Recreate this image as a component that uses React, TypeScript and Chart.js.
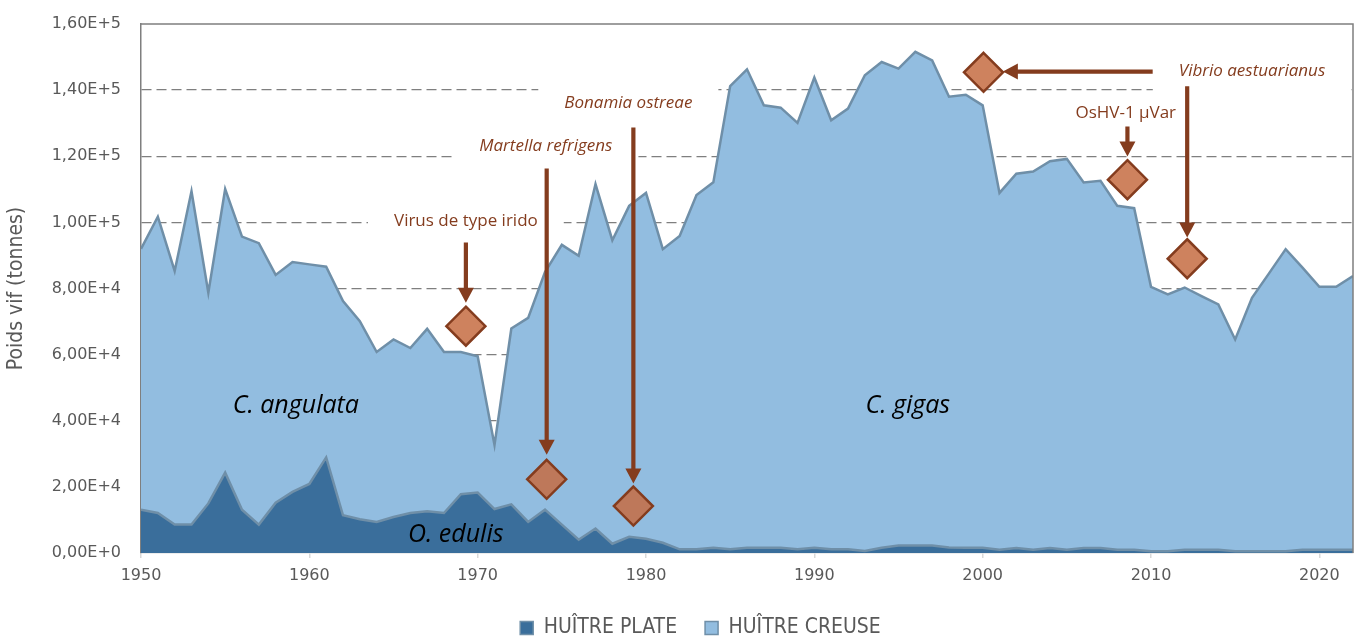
import React, { useEffect, useRef } from 'react';
import { Chart, registerables } from 'chart.js';

Chart.register(...registerables);

// ---------- DATA ----------
const years = Array.from({ length: 73 }, (_, i) => 1950 + i);

const seriesNames = ['HUÎTRE PLATE', 'HUÎTRE CREUSE'];

// Oysters, flat (O. edulis), tonnes
const huitrePlate = [
  13100, 12100, 8600, 8600, 15000, 24300, 13100, 8600, 15200, 18500,
  20900, 28900, 11400, 10200, 9400, 10900, 12100, 12600, 12100, 17800,
  18300, 13300, 14700, 9400, 13100, 8600, 4000, 7400, 2800, 4900,
  4300, 3100, 1100, 1100, 1600, 1100, 1600, 1600, 1600, 1100,
  1600, 1100, 1100, 600, 1600, 2300, 2300, 2300, 1700, 1600,
  1600, 1000, 1500, 1000, 1500, 1000, 1500, 1500, 1000, 1000,
  500, 500, 1000, 1000, 1000, 500, 500, 500, 500, 1000,
  1000, 1000, 1000,
];

// Oysters, cupped (C. angulata / C. gigas), tonnes
const huitreCreuse = [
  78900, 89600, 76700, 100800, 63700, 85800, 82600, 85100, 68900, 69500,
  66400, 57700, 64800, 59900, 51400, 53700, 49900, 55200, 48700, 43000,
  41200, 19400, 53200, 61700, 71900, 84600, 85900, 104200, 91800, 100100,
  104600, 88800, 94800, 107200, 110500, 140100, 144700, 133800, 133100, 129000,
  142200, 129800, 133300, 143900, 146900, 144200, 149300, 146700, 136300, 137000,
  133800, 107900, 113200, 114400, 117000, 118200, 110600, 111100, 104000, 103300,
  80000, 77700, 79300, 76700, 74200, 64100, 76700, 84000, 91400, 85300,
  79500, 79500, 82800,
];

const yTicks = [0, 20000, 40000, 60000, 80000, 100000, 120000, 140000, 160000];
const xTicks = [1950, 1960, 1970, 1980, 1990, 2000, 2010, 2020];

// Pathogen labels (data coordinates)
const pathogenNames = ['Virus de type irido', 'Martella refrigens', 'Bonamia ostreae', 'OsHV-1 µVar', 'Vibrio aestuarianus'];
const pathogenItalic = [false, true, true, false, true];
const pathogenLabelX = [1969.3, 1974.05, 1978.95, 2008.5, 2016.0];
const pathogenLabelY = [100300, 123000, 136000, 133000, 145700];

// Diamond markers (data coordinates)
const diamondX = [1969.3, 1974.1, 1979.25, 2000.05, 2008.6, 2012.15];
const diamondY = [68600, 22300, 14200, 145400, 112900, 89000];

// Arrows (data coordinates), from -> to (tip)
const arrowFromX = [1969.3, 1974.1, 1979.25, 2010.1, 2008.6, 2012.15];
const arrowFromY = [93900, 116300, 128700, 145600, 129000, 141200];
const arrowToX = [1969.3, 1974.1, 1979.25, 2001.2, 2008.6, 2012.15];
const arrowToY = [75700, 29700, 21000, 145600, 119900, 95400];

// Species labels
const speciesNames = ['C. angulata', 'C. gigas', 'O. edulis'];
const speciesX = [1959.2, 1995.55, 1968.7];
const speciesY = [44600, 44600, 5500];

// ---------- STYLE ----------
const BROWN = '#843c1e';
const DIAMOND_FILL = 'rgba(197,108,66,0.85)';
const DARK = '#3a6e9b';
const LIGHT = '#92bde0';
const EDGE = '#6f8fa8';
const GREY_TXT = '#595959';
const LABEL_FONT = "'Open Sans', 'DejaVu Sans', sans-serif";
const NARROW_FONT = "'Liberation Sans Narrow', 'DejaVu Sans Condensed', 'Liberation Sans', sans-serif";
const TICK_FONT = "'DejaVu Sans', sans-serif";
const LEGEND_SHIFT = 24;

function fmtSci(v: number): string {
  if (v === 0) return '0,00E+0';
  const e = Math.floor(Math.log10(v));
  const m = v / Math.pow(10, e);
  return m.toFixed(2).replace('.', ',') + 'E+' + e;
}

function drawArrow(ctx: CanvasRenderingContext2D, x1: number, y1: number, x2: number, y2: number) {
  const dx = x2 - x1, dy = y2 - y1;
  const len = Math.hypot(dx, dy);
  const ux = dx / len, uy = dy / len;
  const px = -uy, py = ux;
  const headLen = 15, headHalf = 8, shaft = 2.1;
  const bx = x2 - ux * headLen, by = y2 - uy * headLen;
  ctx.fillStyle = BROWN;
  ctx.beginPath();
  ctx.moveTo(x1 + px * shaft, y1 + py * shaft);
  ctx.lineTo(bx + px * shaft, by + py * shaft);
  ctx.lineTo(bx + px * headHalf, by + py * headHalf);
  ctx.lineTo(x2, y2);
  ctx.lineTo(bx - px * headHalf, by - py * headHalf);
  ctx.lineTo(bx - px * shaft, by - py * shaft);
  ctx.lineTo(x1 - px * shaft, y1 - py * shaft);
  ctx.closePath();
  ctx.fill();
}

const annotationPlugin = {
  id: 'oysterAnnotations',
  afterLayout(chart: any) {
    const lg = chart.legend;
    if (lg) {
      lg.left += LEGEND_SHIFT;
      lg.right += LEGEND_SHIFT;
    }
  },
  beforeDatasetsDraw(chart: any) {
    const { ctx, scales } = chart;
    const x = scales.x, y = scales.y;
    ctx.save();
    pathogenNames.forEach((t, i) => {
      ctx.font = `${pathogenItalic[i] ? 'italic ' : ''}17px ${LABEL_FONT}`;
      const w = ctx.measureText(t).width;
      const cx = x.getPixelForValue(pathogenLabelX[i]);
      const cy = y.getPixelForValue(pathogenLabelY[i]);
      ctx.fillStyle = '#ffffff';
      ctx.fillRect(cx - w / 2 - 26, cy - 18, w + 52, 40);
    });
    ctx.restore();
  },
  afterDatasetsDraw(chart: any) {
    const { ctx, scales, chartArea } = chart;
    const x = scales.x, y = scales.y;
    ctx.save();
    // plot frame: top and right
    ctx.strokeStyle = '#7f7f7f';
    ctx.lineWidth = 1.5;
    ctx.beginPath();
    ctx.moveTo(chartArea.left, chartArea.top);
    ctx.lineTo(chartArea.right, chartArea.top);
    ctx.lineTo(chartArea.right, chartArea.bottom);
    ctx.stroke();

    // species labels
    ctx.fillStyle = '#000000';
    ctx.font = `italic 25px ${LABEL_FONT}`;
    ctx.textAlign = 'center';
    ctx.textBaseline = 'middle';
    speciesNames.forEach((t, i) => {
      ctx.fillText(t, x.getPixelForValue(speciesX[i]), y.getPixelForValue(speciesY[i]));
    });

    // arrows
    arrowFromX.forEach((_, i) => {
      drawArrow(
        ctx,
        x.getPixelForValue(arrowFromX[i]), y.getPixelForValue(arrowFromY[i]),
        x.getPixelForValue(arrowToX[i]), y.getPixelForValue(arrowToY[i])
      );
    });

    // diamonds
    const r = 19.5;
    diamondX.forEach((_, i) => {
      const cx = x.getPixelForValue(diamondX[i]);
      const cy = y.getPixelForValue(diamondY[i]);
      ctx.beginPath();
      ctx.moveTo(cx, cy - r);
      ctx.lineTo(cx + r, cy);
      ctx.lineTo(cx, cy + r);
      ctx.lineTo(cx - r, cy);
      ctx.closePath();
      ctx.fillStyle = DIAMOND_FILL;
      ctx.fill();
      ctx.lineWidth = 2.5;
      ctx.strokeStyle = BROWN;
      ctx.lineJoin = 'miter';
      ctx.stroke();
    });

    // pathogen texts
    ctx.fillStyle = BROWN;
    pathogenNames.forEach((t, i) => {
      ctx.font = `${pathogenItalic[i] ? 'italic ' : ''}17px ${LABEL_FONT}`;
      ctx.fillText(t, x.getPixelForValue(pathogenLabelX[i]), y.getPixelForValue(pathogenLabelY[i]));
    });
    ctx.restore();
  },
};

export default function App() {
  const canvasRef = useRef<HTMLCanvasElement | null>(null);

  useEffect(() => {
    const canvas = canvasRef.current;
    if (!canvas) return;
    const chart = new Chart(canvas, {
      type: 'line',
      data: {
        datasets: [
          {
            label: seriesNames[0],
            data: years.map((yr, i) => ({ x: yr, y: huitrePlate[i] })),
            backgroundColor: DARK,
            borderColor: EDGE,
            borderWidth: 2.5,
            pointRadius: 0,
            tension: 0,
            fill: 'origin',
          },
          {
            label: seriesNames[1],
            data: years.map((yr, i) => ({ x: yr, y: huitreCreuse[i] })),
            backgroundColor: LIGHT,
            borderColor: EDGE,
            borderWidth: 2.5,
            pointRadius: 0,
            tension: 0,
            fill: '-1',
          },
        ],
      },
      options: {
        animation: false,
        responsive: true,
        maintainAspectRatio: false,
        layout: { padding: { top: 24, right: 2, left: 0, bottom: -11.5 } },
        plugins: {
          tooltip: { enabled: false },
          legend: {
            position: 'bottom',
            labels: {
              boxWidth: 13,
              boxHeight: 13,
              padding: 28,
              color: GREY_TXT,
              font: { family: NARROW_FONT, size: 21 },
              generateLabels: (c: any) =>
                (Chart.defaults.plugins.legend.labels as any).generateLabels(c).map((l: any) => ({ ...l, lineWidth: 1.5 })),
            },
          },
        },
        scales: {
          x: {
            type: 'linear',
            min: 1950,
            max: 2022,
            afterBuildTicks: (s: any) => {
              s.ticks = xTicks.map((v) => ({ value: v }));
            },
            afterFit: (s: any) => {
              s.height = 36.5;
            },
            grid: {
              display: true,
              drawOnChartArea: false,
              drawTicks: true,
              tickLength: 5,
              color: '#d9d9d9',
              lineWidth: 1.5,
            },
            border: { display: true, color: '#d9d9d9', width: 1.5 },
            ticks: {
              padding: 8,
              color: GREY_TXT,
              font: { family: TICK_FONT, size: 16 },
              maxRotation: 0,
              callback: (v: any) => String(v),
            },
          },
          y: {
            stacked: true,
            min: 0,
            max: 160000,
            afterBuildTicks: (s: any) => {
              s.ticks = yTicks.map((v) => ({ value: v }));
            },
            afterFit: (s: any) => {
              s.width = 141;
              s.paddingTop = 0;
              s.paddingBottom = 0;
            },
            grid: {
              drawTicks: false,
              lineWidth: 1.3,
              color: (c: any) =>
                c.tick && (c.tick.value === 0 || c.tick.value === 160000) ? 'rgba(0,0,0,0)' : '#7f7f7f',
            },
            border: { display: true, color: '#7f7f7f', width: 1.5, dash: [10, 5] },
            ticks: {
              padding: 20,
              color: GREY_TXT,
              font: { family: TICK_FONT, size: 16 },
              callback: (v: any) => fmtSci(Number(v)),
            },
            title: {
              display: true,
              text: 'Poids vif (tonnes)',
              color: GREY_TXT,
              font: { family: NARROW_FONT, size: 21 },
              padding: { top: 4, bottom: 4 },
            },
          },
        },
      },
      plugins: [annotationPlugin],
    });
    return () => chart.destroy();
  }, []);

  return (
    <div style={{ position: 'absolute', left: 0, top: 0, width: 1355, height: 637, background: '#ffffff' }}>
      <canvas ref={canvasRef} />
    </div>
  );
}
